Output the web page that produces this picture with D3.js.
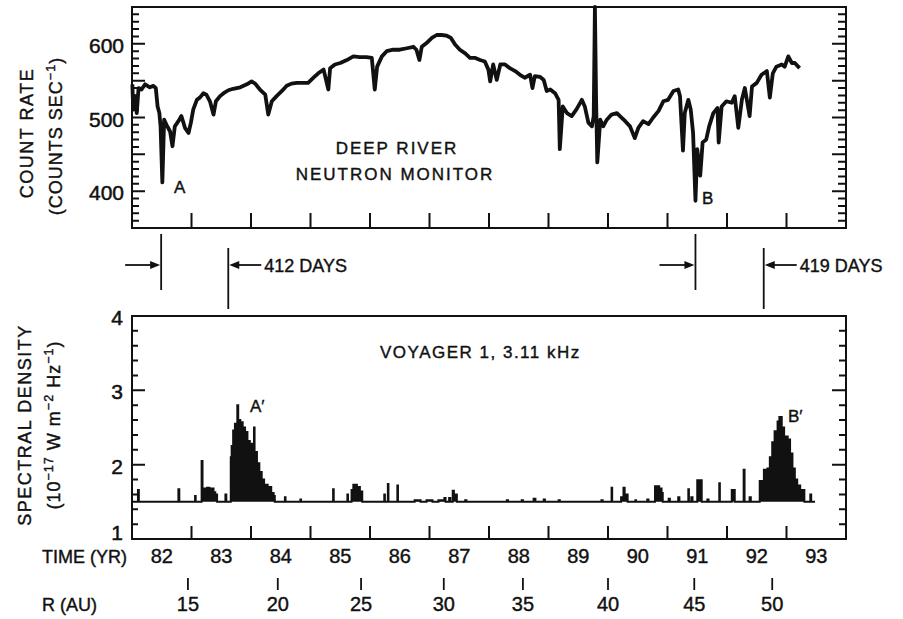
<!DOCTYPE html>
<html>
<head>
<meta charset="utf-8">
<script src="https://cdn.jsdelivr.net/npm/d3@7"></script>
<style>
  body { margin: 0; background: #fff; }
  text { font-family: "Liberation Sans", Arial, sans-serif; fill: #111; }
</style>
</head>
<body>
<svg id="chart" width="903" height="619"></svg>
<script>
// ---- Deep River neutron monitor count rate (counts/s) ----
const nmYear = [
  1982.006,1982.02,1982.05,1982.08,1982.11,1982.16,1982.22,1982.30,1982.36,1982.40,
  1982.43,1982.46,1982.48,1982.51,1982.54,1982.58,1982.64,1982.68,1982.72,1982.78,
  1982.83,1982.89,1982.95,1982.99,1983.03,1983.09,1983.14,1983.20,1983.25,1983.31,
  1983.37,1983.41,1983.48,1983.54,1983.62,1983.70,1983.82,1983.93,1984.01,1984.07,
  1984.15,1984.24,1984.29,1984.35,1984.43,1984.52,1984.60,1984.68,1984.77,1984.88,
  1984.96,1985.05,1985.13,1985.22,1985.30,1985.33,1985.41,1985.50,1985.61,1985.72,
  1985.83,1985.94,1986.03,1986.08,1986.12,1986.20,1986.28,1986.39,1986.50,1986.62,
  1986.73,1986.78,1986.83,1986.87,1986.95,1987.04,1987.12,1987.20,1987.29,1987.36,
  1987.43,1987.51,1987.60,1987.68,1987.76,1987.85,1987.93,1987.99,1988.02,1988.07,
  1988.13,1988.19,1988.27,1988.35,1988.44,1988.52,1988.60,1988.69,1988.73,1988.77,
  1988.86,1988.92,1988.97,1989.03,1989.11,1989.17,1989.19,1989.24,1989.31,1989.39,
  1989.47,1989.56,1989.61,1989.67,1989.73,1989.76,1989.78,1989.80,1989.82,1989.87,
  1989.92,1989.98,1990.06,1990.15,1990.20,1990.29,1990.37,1990.45,1990.51,1990.59,
  1990.68,1990.76,1990.85,1990.93,1991.01,1991.10,1991.18,1991.21,1991.26,1991.29,
  1991.35,1991.39,1991.43,1991.47,1991.50,1991.55,1991.59,1991.65,1991.70,1991.77,
  1991.84,1991.86,1991.91,1991.99,1992.08,1992.13,1992.19,1992.25,1992.30,1992.38,
  1992.42,1992.50,1992.58,1992.67,1992.72,1992.77,1992.83,1992.92,1992.97,1993.03,
  1993.09,1993.14,1993.22
];
const nmRate = [
  545,511,529,506,540,538,545,541,543,540,
  515,506,488,412,497,490,481,461,488,495,
  502,486,479,493,511,524,527,533,531,522,
  504,522,529,533,537,539,541,545,549,546,
  538,531,504,522,529,536,543,546,547,547,
  547,554,560,565,538,567,572,574,578,583,
  582,582,581,538,569,583,590,592,592,594,
  596,592,578,596,601,608,612,612,611,608,
  599,592,587,581,581,578,576,565,549,572,
  551,572,572,567,563,558,554,558,540,556,
  555,551,536,538,533,524,457,515,506,502,
  511,524,515,493,488,502,650,524,439,497,
  488,497,504,506,502,495,488,472,486,495,
  491,500,509,522,524,536,538,529,455,506,
  524,511,479,387,457,421,466,470,488,506,
  513,466,515,522,520,529,486,524,540,502,
  542,547,558,563,527,560,569,572,569,583,
  574,574,567
];

// ---- Voyager 1 3.11 kHz spectral density (1e-17 W m^-2 Hz^-1), stepped samples ----
const sdYear = [
  1982.00,1982.10,1982.115,1982.78,1982.795,1983.06,1983.07,1983.17,1983.185,1983.20,
  1983.23,1983.26,1983.30,1983.33,1983.37,1983.40,1983.43,1983.57,1983.585,1983.66,
  1983.675,1983.70,1983.73,1983.77,1983.785,1983.82,1983.86,1983.90,1983.94,1983.98,
  1984.02,1984.05,1984.06,1984.10,1984.14,1984.18,1984.22,1984.28,1984.34,1984.38,
  1984.40,1984.57,1984.58,1984.83,1984.84,1985.38,1985.39,1985.62,1985.63,1985.69,
  1985.72,1985.78,1985.83,1985.87,1986.24,1986.25,1986.30,1986.31,1986.46,1986.47,
  1986.75,1986.85,1986.95,1987.05,1987.15,1987.25,1987.27,1987.33,1987.35,1987.39,
  1987.41,1987.44,1987.46,1987.60,1987.62,1988.30,1988.32,1988.55,1988.57,1988.75,
  1988.78,1988.92,1988.94,1989.17,1989.19,1989.89,1989.91,1990.06,1990.07,1990.22,
  1990.26,1990.28,1990.33,1990.46,1990.47,1990.66,1990.68,1990.79,1990.86,1990.90,
  1990.92,1991.02,1991.04,1991.18,1991.20,1991.35,1991.36,1991.40,1991.42,1991.50,
  1991.575,1991.67,1991.69,1991.87,1991.88,1992.08,1992.13,1992.28,1992.295,1992.38,
  1992.40,1992.55,1992.62,1992.68,1992.72,1992.76,1992.80,1992.85,1992.88,1992.92,
  1992.96,1993.02,1993.06,1993.10,1993.14,1993.18,1993.23,1993.30,1993.40,1993.415,
  1993.48
];
const sdValue = [
  1.5,1.66,1.5,1.67,1.5,1.58,1.5,2.05,1.62,1.68,
  1.64,1.69,1.66,1.68,1.63,1.6,1.5,1.6,1.5,2.1,
  2.25,2.46,2.55,2.8,2.6,2.57,2.5,2.44,2.32,2.28,
  2.2,2.5,2.17,2.02,1.9,1.8,1.73,1.7,1.62,1.58,
  1.5,1.56,1.5,1.53,1.5,1.67,1.5,1.6,1.5,1.66,
  1.73,1.7,1.64,1.5,1.6,1.5,1.74,1.5,1.72,1.5,
  1.52,1.5,1.52,1.5,1.52,1.55,1.5,1.55,1.5,1.65,
  1.56,1.6,1.5,1.52,1.5,1.52,1.5,1.52,1.5,1.54,
  1.5,1.53,1.5,1.52,1.5,1.52,1.5,1.69,1.5,1.56,
  1.69,1.6,1.5,1.52,1.5,1.53,1.5,1.71,1.68,1.62,
  1.5,1.54,1.5,1.56,1.5,1.67,1.5,1.56,1.5,1.79,
  1.5,1.53,1.5,1.75,1.5,1.66,1.5,1.93,1.5,1.56,
  1.5,1.78,1.93,1.95,2.1,2.3,2.45,2.58,2.64,2.5,
  2.38,2.34,2.15,1.95,1.8,1.72,1.66,1.5,1.6,1.5,
  1.5
];

// ---- axis labels ----
const yearTicks = [1983,1984,1985,1986,1987,1988,1989,1990,1991,1992,1993];
const yearLabels = ["82","83","84","85","86","87","88","89","90","91","92","93"];
const rateLabels = [400, 500, 600];
const densityLabels = [1, 2, 3, 4];
const auLabels = [15, 20, 25, 30, 35, 40, 45, 50];
const auYears = [1982.94, 1984.45, 1985.85, 1987.24, 1988.57, 1990.0, 1991.45, 1992.76];

// ---- event pairs: neutron decrease and later radio onset ----
const eventStart = [1982.49, 1991.47];
const eventDelayDays = [412, 419];

const svg = d3.select("#chart");
const ink = "#111";

const x = d3.scaleLinear().domain([1982, 1994]).range([132, 846]);
const yTop = d3.scaleLinear().domain([350, 650]).range([228, 7]);
const yBot = d3.scaleLinear().domain([1, 4]).range([539, 316]);
const xL = x.range()[0], xR = x.range()[1];

// frame rectangle plus all of its tick marks, as a single path
function framePath(yScale, minor, major, minLen, majLen, yearLen) {
  const [yB, yT] = yScale.range();
  const p = d3.path();
  p.rect(xL, yT, xR - xL, yB - yT);
  minor.forEach(v => { const yy = yScale(v);
    p.moveTo(xL, yy); p.lineTo(xL + minLen, yy);
    p.moveTo(xR, yy); p.lineTo(xR - minLen - 1, yy); });
  major.forEach(v => { const yy = yScale(v);
    p.moveTo(xL, yy); p.lineTo(xL + majLen, yy);
    p.moveTo(xR, yy); p.lineTo(xR - majLen - 1, yy); });
  yearTicks.forEach(t => { const xx = x(t);
    p.moveTo(xx, yB); p.lineTo(xx, yB - yearLen); });
  svg.append("path").attr("d", p.toString())
    .attr("fill", "none").attr("stroke", ink).attr("stroke-width", 2);
}

// ================= top panel =================
const minorRate = d3.range(360, 650, 10).filter(v => v % 50 !== 0);
const majorRate = d3.range(400, 650, 50);
framePath(yTop, minorRate, majorRate, 7, 13, 15);

svg.selectAll(null).data(rateLabels).join("text")
  .attr("x", 124).attr("y", d => yTop(d) + 9)
  .attr("text-anchor", "end").attr("font-size", 21)
  .attr("stroke", ink).attr("stroke-width", 0.5)
  .text(d => d);

const nmData = nmYear.map((t, i) => [t, nmRate[i]]);
svg.append("path").datum(nmData)
  .attr("fill", "none").attr("stroke", ink).attr("stroke-width", 3.8)
  .attr("stroke-linejoin", "round")
  .attr("d", d3.line().x(d => x(d[0])).y(d => yTop(Math.min(d[1], 650))));

// ================= bottom panel =================
const minorDen = d3.range(12, 40, 2).map(v => v / 10).filter(v => v !== 2 && v !== 3);
const majorDen = [2, 3];
framePath(yBot, minorDen, majorDen, 6, 13, 13);

svg.selectAll(null).data(densityLabels).join("text")
  .attr("x", 123).attr("y", d => yBot(d) + (d === 1 ? 1 : 9))
  .attr("text-anchor", "end").attr("font-size", 21)
  .attr("stroke", ink).attr("stroke-width", 0.5)
  .text(d => d);

const sdData = sdYear.map((t, i) => [t, sdValue[i]]);
svg.append("path").datum(sdData)
  .attr("fill", ink)
  .attr("d", d3.area().curve(d3.curveStepAfter)
    .x(d => x(d[0])).y0(yBot(1.5)).y1(d => yBot(d[1])));
svg.append("path").datum(sdData)
  .attr("fill", "none").attr("stroke", ink).attr("stroke-width", 2)
  .attr("d", d3.line().curve(d3.curveStepAfter).x(d => x(d[0])).y(d => yBot(d[1])));

// ================= time and distance scales =================
svg.append("text").attr("x", 42).attr("y", 563).attr("font-size", 18)
  .attr("stroke", ink).attr("stroke-width", 0.4).text("TIME (YR)");
svg.selectAll(null).data(yearLabels).join("text")
  .attr("x", (d, i) => x(1982.5 + i)).attr("y", 563)
  .attr("text-anchor", "middle").attr("font-size", 20)
  .attr("stroke", ink).attr("stroke-width", 0.4)
  .text(d => d);

svg.append("path")
  .attr("d", auYears.map(t => `M${x(t)},578v12`).join(""))
  .attr("fill", "none").attr("stroke", ink).attr("stroke-width", 1.8);
svg.append("text").attr("x", 42).attr("y", 611).attr("font-size", 18)
  .attr("stroke", ink).attr("stroke-width", 0.4).text("R (AU)");
svg.selectAll(null).data(auLabels).join("text")
  .attr("x", (d, i) => x(auYears[i])).attr("y", 611)
  .attr("text-anchor", "middle").attr("font-size", 20)
  .attr("stroke", ink).attr("stroke-width", 0.4)
  .text(d => d);

// ================= delay markers between panels =================
const arrowY = 265;
function arrow(xFrom, xTo) {
  const dir = Math.sign(xTo - xFrom);
  const p = d3.path();
  p.moveTo(xFrom, arrowY); p.lineTo(xTo - dir * 6, arrowY);
  svg.append("path").attr("d", p.toString())
    .attr("fill", "none").attr("stroke", ink).attr("stroke-width", 1.8);
  svg.append("path")
    .attr("d", `M${xTo},${arrowY} L${xTo - dir * 10},${arrowY - 4} L${xTo - dir * 10},${arrowY + 4} Z`)
    .attr("fill", ink);
}
eventStart.forEach((t0, i) => {
  const t1 = t0 + eventDelayDays[i] / 365.25;
  const xa = x(t0), xb = x(t1);
  const p = d3.path();
  p.moveTo(xa, 234); p.lineTo(xa, 290);
  p.moveTo(xb, 248); p.lineTo(xb, 309);
  svg.append("path").attr("d", p.toString())
    .attr("fill", "none").attr("stroke", ink).attr("stroke-width", 1.8);
  arrow(xa - 36, xa - 1);
  arrow(xb + 33, xb + 1);
  svg.append("text").attr("x", xb + 36).attr("y", arrowY + 7)
    .attr("font-size", 18).attr("stroke", ink).attr("stroke-width", 0.4)
    .text(`${eventDelayDays[i]} DAYS`);
});

// ================= panel annotations =================
function label(txt, xPos, yPos, size, anchor, spacing) {
  return svg.append("text").attr("x", xPos).attr("y", yPos)
    .attr("font-size", size).attr("text-anchor", anchor || "start")
    .attr("letter-spacing", spacing || 0)
    .attr("stroke", ink).attr("stroke-width", 0.4)
    .text(txt);
}
label("DEEP RIVER", 397, 154, 17, "middle", 2);
label("NEUTRON MONITOR", 395, 180, 17, "middle", 2);
label("A", 174, 193, 17);
label("B", 702, 204, 17);
label("VOYAGER 1,  3.11 kHz", 380, 358, 17, "start", 1.5);
label("A\u2032", 250, 412, 17);
label("B\u2032", 788, 422, 17);

// rotated axis titles
function vtitle(xPos, yPos, parts, size, spacing) {
  const t = svg.append("text")
    .attr("transform", `translate(${xPos},${yPos}) rotate(-90)`)
    .attr("text-anchor", "middle").attr("font-size", size)
    .attr("letter-spacing", spacing)
    .attr("stroke", ink).attr("stroke-width", 0.4);
  parts.forEach(p => {
    const s = t.append("tspan").text(p[0]);
    if (p[1]) s.attr("font-size", size * 0.7).attr("dy", -size * 0.4);
    if (p[2]) s.attr("dy", size * 0.4);
  });
}
vtitle(33, 133, [["COUNT  RATE"]], 18, 1.5);
vtitle(62, 136, [["(COUNTS SEC"], ["\u22121", true], [")", false, true]], 18, 1);
vtitle(31, 425, [["SPECTRAL  DENSITY"]], 18, 1.5);
vtitle(60, 425, [["(10"], ["\u221217", true], [" W m", false, true], ["\u22122", true], [" Hz", false, true], ["\u22121", true], [")", false, true]], 18, 1);
</script>
</body>
</html>
